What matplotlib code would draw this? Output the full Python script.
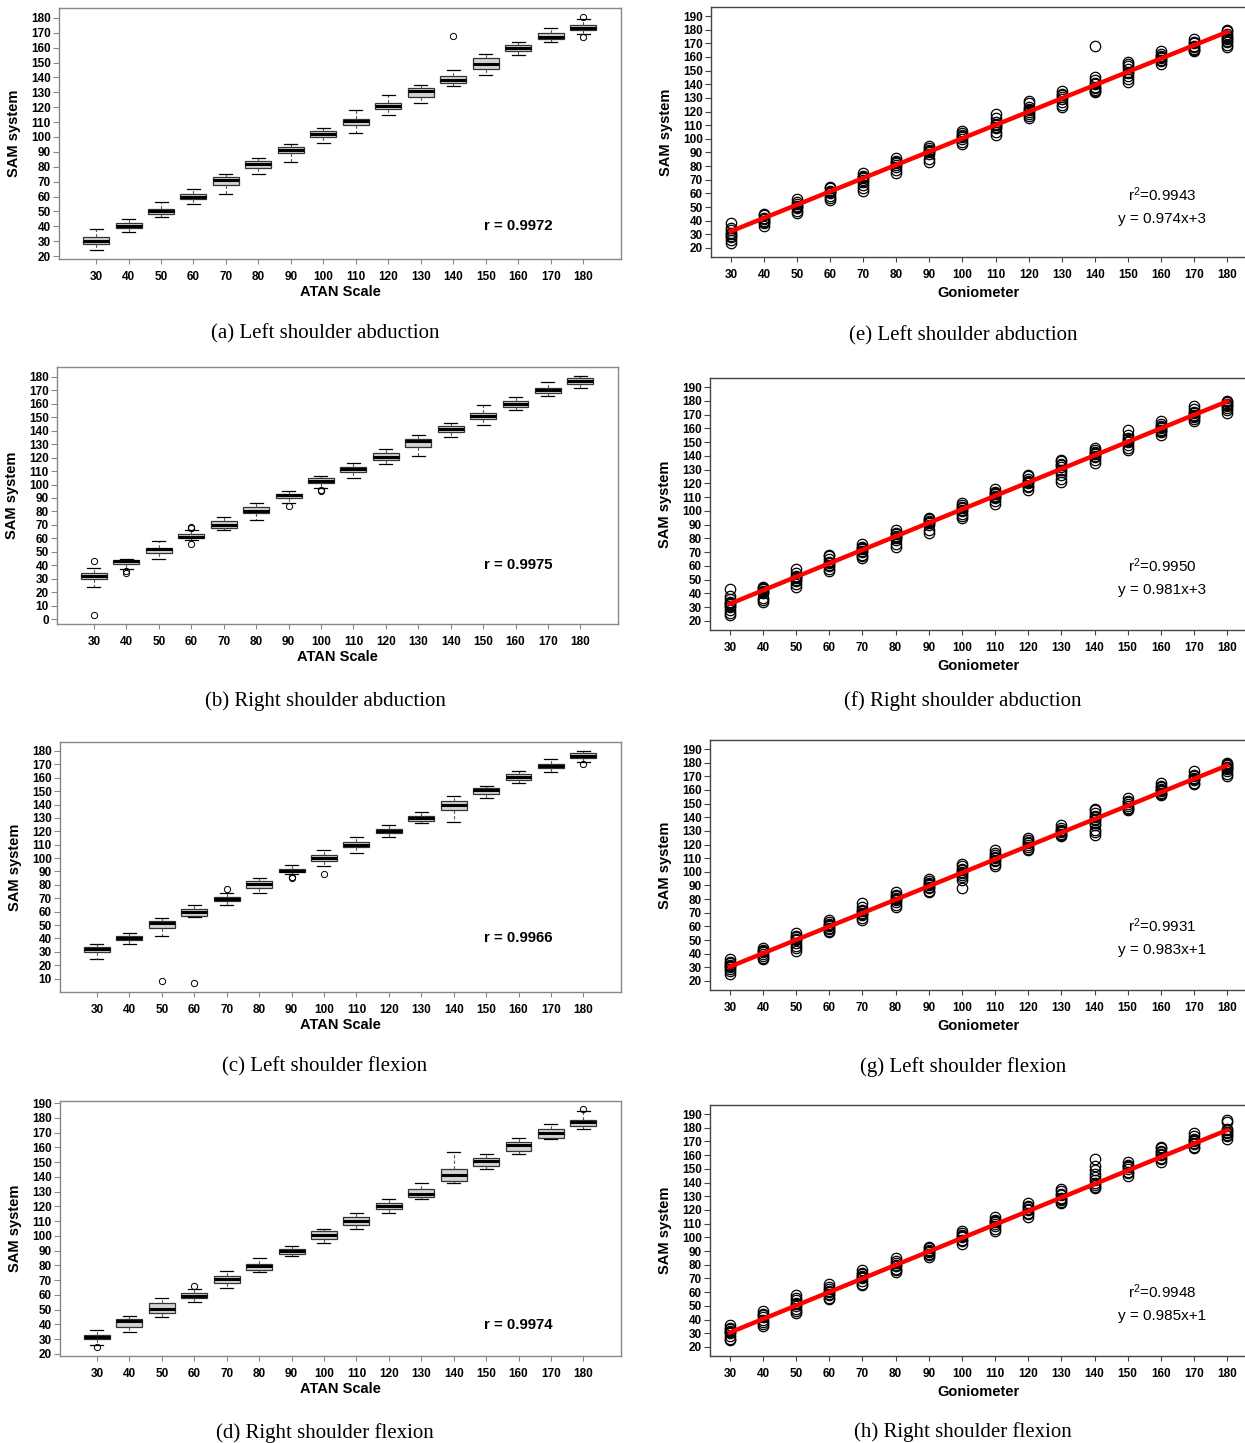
import matplotlib
matplotlib.use("Agg")
import matplotlib.pyplot as plt

plt.rcParams['font.family'] = ['Liberation Sans', 'DejaVu Sans']

# goniometer / ATAN reference angles
ANGLES = [30, 40, 50, 60, 70, 80, 90, 100, 110, 120, 130, 140, 150, 160, 170, 180]

# box plot summaries read from the left column: (whisker low, q1, median, q3, whisker high)
left_abd_box = [(24, 28, 30, 33, 38), (36, 39, 40.5, 42, 45), (46, 48, 50.5, 51.5, 56),
                (55, 58, 60, 62, 65), (62, 68, 71, 73, 75), (75, 79, 82, 84, 86),
                (83, 89, 91, 93, 95), (96, 100, 102, 104, 106), (103, 108, 110.5, 112, 118),
                (115, 118.5, 121, 123, 128), (123, 127, 131, 133, 135), (134, 136, 138, 141, 145),
                (142, 146, 149, 153, 156), (155, 158, 160, 162, 164), (164, 166, 167, 170, 173),
                (169, 172, 173.5, 175, 179)]
left_abd_fliers = {140: [168], 180: [180.5, 167]}

right_abd_box = [(24, 30, 32, 34, 38), (37, 41, 43, 44, 45), (45, 49, 52, 53, 58),
                 (58.5, 60, 61, 63.5, 66.5), (66.5, 68, 70, 73, 76), (74, 79, 80.5, 83, 86),
                 (86, 90, 92, 93, 95), (97.5, 101, 102.5, 104.5, 106), (105, 109, 111.5, 113, 116),
                 (115, 118, 120.5, 123.5, 126.5), (121, 128, 132.5, 134, 137), (135, 139, 141, 143.5, 146),
                 (144, 149, 151, 153, 159.5), (155.5, 158, 160, 162, 165), (165.5, 168, 170.5, 172, 176.5),
                 (171.5, 175, 177, 179, 180.5)]
right_abd_fliers = {30: [43, 3], 40: [35.5, 34.5], 60: [68.5, 67.5, 56], 90: [84], 100: [96, 95]}

left_flex_box = [(25, 30, 32, 33.5, 36), (36, 38.5, 40.5, 42, 44), (42, 48, 51.5, 53, 55),
                 (56, 57, 60, 62, 65), (65, 68, 69.5, 71, 74), (74, 78, 80.5, 83, 85),
                 (88, 89.5, 90.5, 92, 95), (94, 98, 100, 102, 106), (104, 108, 110, 112, 116),
                 (116, 118.5, 120.5, 122, 125), (126, 128, 130, 131.5, 134.5), (127, 136, 139.5, 142.5, 146),
                 (145, 147.5, 150.5, 152.5, 154), (156, 158.5, 160.5, 162.5, 165), (164, 167, 168.5, 170.5, 174),
                 (172, 175, 176.5, 178.5, 180)]
left_flex_fliers = {50: [8], 60: [7], 70: [77], 90: [86, 85], 100: [88], 180: [170]}

right_flex_box = [(26, 30, 31.5, 32.5, 36), (35, 38, 42.5, 43.5, 46), (45, 48, 50.5, 54.5, 58),
                  (55.5, 58, 59, 61, 64), (65, 68, 71, 73, 76), (75.5, 77, 79.5, 81, 85),
                  (86.5, 88, 89.5, 91, 93), (95, 98, 100.5, 103, 105), (105, 107.5, 110, 113, 115.5),
                  (115.5, 118.5, 120.5, 122, 125), (125, 126.5, 128.5, 132, 135.5), (136, 137.5, 141.5, 145, 157),
                  (145, 147.5, 150.5, 152.5, 155.5), (155.5, 157.5, 161.5, 163.5, 166.5), (165.5, 166.5, 169.5, 172.5, 176),
                  (172.5, 174.5, 177, 178.5, 184.5)]
right_flex_fliers = {30: [25], 60: [66], 180: [186]}

# individual SAM readings per goniometer angle (right column)
left_abd_pts = [[24, 26, 28, 29, 30, 31, 33, 35, 38], [36, 38, 39, 40, 41, 42, 44, 45],
                [46, 47, 49, 50, 51, 52, 54, 56], [55, 57, 58, 60, 61, 62, 64, 65],
                [62, 64, 66, 68, 70, 71, 72, 73, 75], [75, 77, 79, 81, 82, 83, 84, 86],
                [83, 85, 89, 90, 91, 92, 93, 95], [96, 98, 100, 101, 102, 103, 104, 106],
                [103, 105, 108, 109, 110, 111, 112, 115, 118], [115, 117, 118, 120, 121, 122, 123, 126, 128],
                [123, 125, 127, 129, 131, 132, 133, 135], [134, 135, 136, 137, 138, 140, 141, 143, 145, 168],
                [142, 144, 146, 148, 149, 151, 153, 155, 156], [155, 157, 158, 159, 160, 161, 162, 164],
                [164, 165, 166, 167, 168, 170, 171, 173], [167, 169, 171, 172, 173, 174, 175, 177, 179, 180]]

right_abd_pts = [[24, 26, 28, 30, 31, 32, 33, 34, 36, 38, 43], [34, 35, 37, 40, 41, 42, 43, 44, 45],
                 [45, 47, 49, 50, 51, 52, 53, 55, 58], [56, 58, 60, 61, 62, 63, 65, 67, 68],
                 [66, 67, 68, 70, 71, 72, 73, 74, 76], [74, 76, 79, 80, 81, 82, 83, 84, 86],
                 [84, 86, 90, 91, 92, 93, 94, 95], [95, 96, 98, 100, 101, 102, 103, 104, 106],
                 [105, 107, 109, 110, 111, 112, 113, 114, 116], [115, 117, 118, 120, 121, 122, 123, 125, 126],
                 [121, 123, 126, 128, 130, 132, 133, 134, 136, 137], [135, 137, 139, 140, 141, 142, 143, 144, 146],
                 [144, 146, 148, 150, 151, 152, 153, 155, 159], [155, 157, 158, 159, 160, 161, 162, 163, 165],
                 [165, 167, 168, 169, 170, 171, 172, 174, 176], [171, 173, 175, 176, 177, 178, 179, 180]]

left_flex_pts = [[25, 27, 29, 30, 31, 32, 33, 34, 36], [36, 37, 38, 40, 41, 42, 43, 44],
                 [42, 44, 46, 48, 50, 51, 52, 53, 55], [56, 57, 58, 59, 60, 61, 62, 63, 65],
                 [65, 66, 68, 69, 70, 71, 72, 74, 77], [74, 76, 78, 79, 80, 81, 82, 83, 85],
                 [85, 86, 88, 89, 90, 91, 92, 93, 95], [88, 94, 96, 98, 99, 100, 101, 102, 104, 106],
                 [104, 106, 108, 109, 110, 111, 112, 114, 116], [116, 117, 118, 120, 121, 122, 123, 125],
                 [126, 127, 128, 129, 130, 131, 132, 134], [127, 129, 131, 134, 136, 138, 139, 140, 141, 143, 145, 146],
                 [145, 146, 147, 148, 150, 151, 152, 154], [156, 157, 158, 159, 160, 161, 162, 163, 165],
                 [164, 165, 167, 168, 169, 170, 171, 174], [170, 172, 174, 175, 176, 177, 178, 179, 180]]

right_flex_pts = [[25, 26, 28, 30, 31, 32, 33, 34, 36], [35, 37, 38, 40, 42, 43, 44, 46],
                  [45, 46, 48, 50, 51, 52, 54, 56, 58], [55, 56, 58, 59, 60, 61, 62, 64, 66],
                  [65, 66, 68, 70, 71, 72, 73, 74, 76], [75, 76, 77, 79, 80, 81, 83, 85],
                  [86, 87, 88, 89, 90, 91, 92, 93], [95, 97, 98, 100, 101, 102, 103, 105],
                  [105, 106, 108, 110, 111, 112, 113, 115], [115, 117, 118, 120, 121, 122, 123, 125],
                  [125, 126, 127, 128, 129, 131, 132, 134, 135], [136, 137, 138, 140, 142, 144, 146, 149, 152, 157],
                  [145, 147, 148, 150, 151, 152, 153, 155], [155, 157, 158, 160, 161, 162, 163, 165, 166],
                  [165, 166, 168, 169, 170, 171, 172, 174, 176], [172, 174, 175, 176, 177, 178, 179, 184, 186]]

r_values = ['0.9972', '0.9975', '0.9966', '0.9974']
r2_values = ['0.9943', '0.9950', '0.9931', '0.9948']
slopes = [0.974, 0.981, 0.983, 0.985]
intercepts = [3, 3, 1, 1]
captions_left = ['(a) Left shoulder abduction', '(b) Right shoulder abduction',
                 '(c) Left shoulder flexion', '(d) Right shoulder flexion']
captions_right = ['(e) Left shoulder abduction', '(f) Right shoulder abduction',
                  '(g) Left shoulder flexion', '(h) Right shoulder flexion']

W, H = 1245, 1443
fig = plt.figure(figsize=(W / 100, H / 100), dpi=100)


def px_axes(x0, y0, x1, y1):
    return fig.add_axes([x0 / W, 1 - y1 / H, (x1 - x0) / W, (y1 - y0) / H])


def px_text(x, y, s, **kw):
    fig.text(x / W, 1 - y / H, s, ha='center', va='center', **kw)


def style_axes(ax, edge, yticks):
    for sp in ax.spines.values():
        sp.set_color(edge)
        sp.set_linewidth(1.0)
    ax.set_xticks(ANGLES, labels=[str(a) for a in ANGLES], fontweight='bold')
    ax.set_yticks(yticks, labels=[str(t) for t in yticks], fontweight='bold')
    ax.tick_params(axis='x', length=3.5, width=0.8, color=edge, labelsize=8.5, pad=5)
    ax.tick_params(axis='y', length=4, width=0.8, color=edge, labelsize=8.5, pad=2)


# left column: box plots
left_boxes = [
    (left_abd_box, left_abd_fliers, (59, 8, 621, 259), (18, 186.7), list(range(20, 181, 10))),
    (right_abd_box, right_abd_fliers, (57, 367, 618, 624), (-3.7, 187.4), list(range(0, 181, 10))),
    (left_flex_box, left_flex_fliers, (60, 742, 621, 992), (0, 186.7), list(range(10, 181, 10))),
    (right_flex_box, right_flex_fliers, (60, 1101, 621, 1356), (18.6, 191.4), list(range(20, 191, 10))),
]
r_text_y = [226, 565, 938, 1325]
cap_left_y = [334, 701, 1067, 1433]

for i, (box, fliers, rect, ylim, yticks) in enumerate(left_boxes):
    ax = px_axes(*rect)
    stats = []
    for ang, (lo, q1, med, q3, hi) in zip(ANGLES, box):
        stats.append(dict(whislo=lo, q1=q1, med=med, q3=q3, whishi=hi, fliers=fliers.get(ang, [])))
    ax.bxp(stats, positions=ANGLES, widths=8, capwidths=4, patch_artist=True,
           boxprops=dict(facecolor='#d3d3d3', edgecolor='#333333', linewidth=0.9),
           medianprops=dict(color='black', linewidth=2.2),
           whiskerprops=dict(color='#555555', linewidth=0.8, linestyle=(0, (3, 2))),
           capprops=dict(color='black', linewidth=0.9),
           flierprops=dict(marker='o', markerfacecolor='none', markeredgecolor='black',
                           markersize=4.5, markeredgewidth=0.7))
    ax.set_xlim(18.6, 191.6)
    ax.set_ylim(*ylim)
    style_axes(ax, '#888888', yticks)
    x0, y0, x1, y1 = rect
    px_text(x0 - 45, (y0 + y1) / 2, 'SAM system', rotation=90, fontsize=10.5, fontweight='bold')
    px_text((x0 + x1) / 2, y1 + 33, 'ATAN Scale', fontsize=10.5, fontweight='bold')
    px_text(518, r_text_y[i], 'r = ' + r_values[i], fontsize=10.8, fontweight='bold')
    px_text(325, cap_left_y[i], captions_left[i], fontsize=15, family='Liberation Serif')

# right column: scatter with fitted line
right_sets = [
    (left_abd_pts, (711, 7, 1247, 257)),
    (right_abd_pts, (710, 378, 1247, 630)),
    (left_flex_pts, (710, 740, 1247, 990)),
    (right_flex_pts, (710, 1105, 1247, 1356)),
]
reg_y = [195, 566, 926, 1292]
cap_right_y = [336, 701, 1067, 1432]

for i, (pts, rect) in enumerate(right_sets):
    ax = px_axes(*rect)
    for ang, vals in zip(ANGLES, pts):
        ax.plot([ang] * len(vals), vals, linestyle='none', marker='o', markersize=7.5,
                markerfacecolor='none', markeredgecolor='black', markeredgewidth=0.9)
    xs = [ANGLES[0], ANGLES[-1]]
    ax.plot(xs, [slopes[i] * x + intercepts[i] for x in xs], color='red', linewidth=3.2)
    ax.set_xlim(24, 186)
    ax.set_ylim(13.4, 196.6)
    style_axes(ax, '#444444', list(range(20, 191, 10)))
    x0, y0, x1, y1 = rect
    px_text(x0 - 45, (y0 + y1) / 2, 'SAM system', rotation=90, fontsize=10.5, fontweight='bold')
    px_text((x0 + x1) / 2, y1 + 36, 'Goniometer', fontsize=10.5, fontweight='bold')
    px_text(1162, reg_y[i], r'$\mathregular{r^2}$=' + r2_values[i], fontsize=11)
    px_text(1162, reg_y[i] + 24, 'y = %.3fx+%d' % (slopes[i], intercepts[i]), fontsize=11)
    px_text(963, cap_right_y[i], captions_right[i], fontsize=15, family='Liberation Serif')

fig.savefig('out.png', dpi=100)
